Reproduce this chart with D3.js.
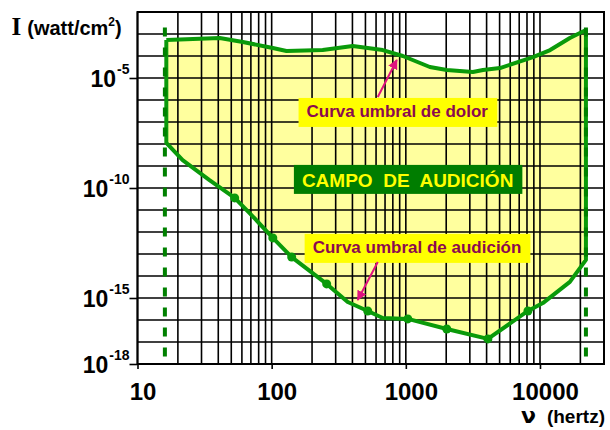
<!DOCTYPE html>
<html>
<head>
<meta charset="utf-8">
<script src="https://cdn.jsdelivr.net/npm/d3@7"></script>
<style>
body { margin: 0; background: #fff; }
text { font-family: "Liberation Sans", Arial, sans-serif; font-weight: bold; }
</style>
</head>
<body>
<script>
// frequency in Hz, intensity given as log10 of I (watt/cm2)
const painFreq = [16.4, 41, 61, 102, 129, 240, 402, 673, 950, 1510, 2020, 3160, 3760, 5030, 8870, 11900, 16700, 22000];
const painLogI = [-3.27, -3.18, -3.36, -3.64, -3.77, -3.73, -3.55, -3.73, -4.0, -4.5, -4.64, -4.73, -4.64, -4.55, -4.05, -3.73, -3.18, -2.82];
const hearFreq = [16.4, 21.7, 34.4, 53, 68.5, 102, 141, 257, 369, 520, 673, 1035, 2020, 4090, 8130, 10500, 16700, 22000];
const hearLogI = [-7.95, -8.73, -9.64, -10.45, -11.14, -12.27, -13.14, -14.36, -15.18, -15.59, -15.91, -15.95, -16.41, -16.86, -15.59, -15.23, -14.27, -13.27];
const hearDots = [53, 102, 141, 257, 520, 1035, 2020, 4090, 8130];
const limitFreq = [16, 22000];
const limitLogI = [-2.7, -17.8];
const xTicks = [10, 100, 1000, 10000];
const yTicks = [-5, -10, -15, -18];

const noteText = ["Curva umbral de dolor", "CAMPO  DE  AUDICIÓN", "Curva umbral de audición"];
const noteFreq = [182, 168, 202];
const noteLogI = [-6.77, -9.95, -12.95];
const arrowFrom = [[618, -5.86], [618, -13.36]];
const arrowTo = [[857, -4.18], [438, -15.09]];

const margin = {top: 12, right: 6, bottom: 66, left: 137.5},
width = 610 - margin.left - margin.right,
height = 430 - margin.top - margin.bottom;

const svg = d3.select("body")
.append("svg")
.attr("width", 610)
.attr("height", 430)
.append("g")
.attr("transform", `translate(${margin.left},${margin.top})`);

const x = d3.scaleLog()
.domain([10, 30000])
.range([0, width]);

const y = d3.scaleLinear()
.domain([-18, -2])
.range([height, 0]);

svg.append("defs").append("marker")
  .attr("id", "head")
  .attr("viewBox", "0 0 10 10")
  .attr("refX", 9).attr("refY", 5)
  .attr("markerWidth", 5).attr("markerHeight", 5)
  .attr("orient", "auto")
  .append("path")
  .attr("d", "M0,0 L10,5 L0,10 z")
  .attr("fill", "#e0137f");

// hearing field between the two curves
const pain = painFreq.map((f, i) => [f, painLogI[i]]);
const hear = hearFreq.map((f, i) => [f, hearLogI[i]]);
const field = pain.concat(hear.slice().reverse());

svg.append("path")
  .datum(field)
  .attr("d", d3.line().x(d => x(d[0])).y(d => y(d[1])))
  .attr("fill", "#ffff9e");

// grid
svg.append("g")
  .selectAll("line")
  .data(x.ticks())
  .enter()
  .append("line")
  .attr("x1", d => x(d)).attr("x2", d => x(d))
  .attr("y1", 0).attr("y2", height)
  .attr("stroke", "#000")
  .attr("stroke-width", 1.6);

svg.append("g")
  .selectAll("line")
  .data(d3.range(-18, -1))
  .enter()
  .append("line")
  .attr("x1", 0).attr("x2", width)
  .attr("y1", d => y(d)).attr("y2", d => y(d))
  .attr("stroke", "#000")
  .attr("stroke-width", 1.6);

svg.append("rect")
  .attr("width", width).attr("height", height)
  .attr("fill", "none")
  .attr("stroke", "#000")
  .attr("stroke-width", 2);

// axes
const xAxis = svg.append("g")
  .attr("transform", `translate(0,${height})`)
  .call(d3.axisBottom(x).tickValues(xTicks).tickFormat(d3.format("d")).tickSize(5).tickPadding(14));
xAxis.select(".domain").remove();
xAxis.selectAll("line").attr("stroke-width", 1.6);
xAxis.selectAll("text")
  .attr("dx", 5)
  .style("font-size", "24px")
  .attr("fill", "#000");

const yAxis = svg.append("g")
  .call(d3.axisLeft(y).tickValues(yTicks).tickSize(8).tickFormat(""));
yAxis.select(".domain").remove();
yAxis.selectAll("line").attr("stroke-width", 1.6);

const yLab = svg.append("g")
  .selectAll("text")
  .data(yTicks)
  .enter()
  .append("text")
  .attr("x", -8)
  .attr("y", d => y(d) + 9)
  .attr("text-anchor", "end");
yLab.append("tspan").style("font-size", "23px").text("10");
yLab.append("tspan").attr("dy", -13).attr("dx", 1).style("font-size", "14px").text(d => d);

// curves
const line = d3.line().x(d => x(d[0])).y(d => y(d[1]));

svg.append("path")
  .datum(field.concat([field[0]]))
  .attr("d", line)
  .attr("fill", "none")
  .attr("stroke", "#0a9a0a")
  .attr("stroke-width", 4)
  .attr("stroke-linejoin", "round");

svg.append("g")
  .selectAll("circle")
  .data(hearDots)
  .enter()
  .append("circle")
  .attr("cx", d => x(d))
  .attr("cy", d => y(hearLogI[hearFreq.indexOf(d)]))
  .attr("r", 4.5)
  .attr("fill", "#0a9a0a");

svg.append("g")
  .selectAll("line")
  .data(limitFreq)
  .enter()
  .append("line")
  .attr("x1", d => x(d)).attr("x2", d => x(d))
  .attr("y1", y(limitLogI[0])).attr("y2", y(limitLogI[1]))
  .attr("stroke", "#008000")
  .attr("stroke-width", 4)
  .attr("stroke-dasharray", "9,11");

// labels in boxes
noteText.forEach((t, i) => {
  const g = svg.append("g");
  const big = i === 1;
  const txt = g.append("text")
    .attr("x", x(noteFreq[i]))
    .attr("y", y(noteLogI[i]))
    .attr("xml:space", "preserve")
    .style("white-space", "pre")
    .style("font-size", big ? "19px" : "17px")
    .attr("fill", big ? "#ffff00" : "#8b0a50")
    .text(t);
  const b = txt.node().getBBox();
  g.insert("rect", "text")
    .attr("x", b.x - 8)
    .attr("y", b.y - (big ? 5 : 4))
    .attr("width", b.width + 17)
    .attr("height", b.height + (big ? 8 : 10))
    .attr("fill", big ? "#007d00" : "#ffff00");
});

svg.append("g")
  .selectAll("line")
  .data(arrowFrom)
  .enter()
  .append("line")
  .attr("x1", d => x(d[0])).attr("y1", d => y(d[1]))
  .attr("x2", (d, i) => x(arrowTo[i][0])).attr("y2", (d, i) => y(arrowTo[i][1]))
  .attr("stroke", "#e0137f")
  .attr("stroke-width", 2)
  .attr("marker-end", "url(#head)");

// axis titles
const yTitle = svg.append("text")
  .attr("x", -126)
  .attr("y", 23);
yTitle.append("tspan")
  .style("font-family", "'Liberation Serif', 'Times New Roman', serif")
  .style("font-size", "25px")
  .text("I");
yTitle.append("tspan").attr("dx", 6).style("font-size", "20px").text("(watt/cm");
yTitle.append("tspan").attr("dy", -9).style("font-size", "12px").text("2");
yTitle.append("tspan").attr("dy", 9).style("font-size", "20px").text(")");

svg.append("text")
  .attr("x", width - 83)
  .attr("y", height + 59)
  .style("font-family", "'DejaVu Sans', sans-serif")
  .style("font-size", "22px")
  .text("ν");

svg.append("text")
  .attr("x", width + 1)
  .attr("y", height + 59)
  .attr("text-anchor", "end")
  .style("font-size", "19px")
  .text("(hertz)");
</script>
</body>
</html>
